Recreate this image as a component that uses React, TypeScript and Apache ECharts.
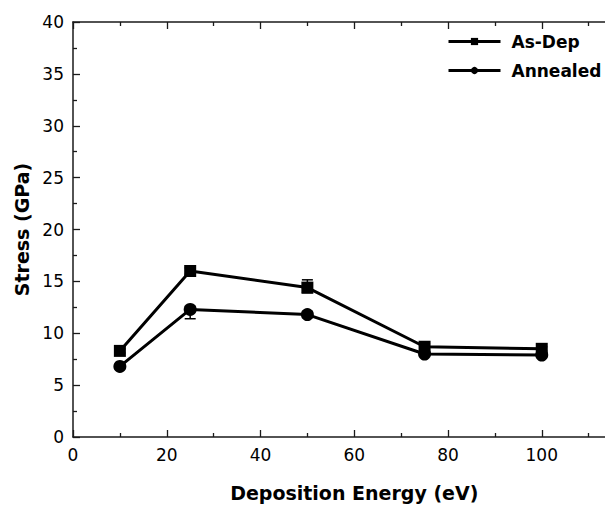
import React, { useEffect, useRef } from "react";
import * as echarts from "echarts";

const xValues = [10, 25, 50, 75, 100];
const asDep = [8.3, 16.0, 14.4, 8.7, 8.5];
const annealed = [6.8, 12.3, 11.8, 8.0, 7.9];
const asDepErrUp = [0.2, 0.3, 0.75, 0.3, 0.2];
const asDepErrDown = [0.2, 0.3, 0.5, 0.3, 0.2];
const annealedErrUp = [0.2, 0.3, 0.3, 0.2, 0.2];
const annealedErrDown = [0.2, 0.9, 0.3, 0.2, 0.2];
const seriesNames = ["As-Dep", "Annealed"];
const xTitle = "Deposition Energy (eV)";
const yTitle = "Stress (GPa)";

const FONT = "DejaVu Sans";

export default function App() {
  const ref = useRef<HTMLDivElement>(null);
  useEffect(() => {
    if (!ref.current) return;
    const chart = echarts.init(ref.current, undefined, { renderer: "svg" });
    const axisLine = { show: true, onZero: false, lineStyle: { color: "#1a1a1a", width: 1.5 } };
    const tick = { show: true, inside: true, length: 7, lineStyle: { color: "#1a1a1a", width: 1.3 } };
    const minor = { show: true, splitNumber: 2, length: 4, lineStyle: { color: "#1a1a1a", width: 1.3 } };
    const errRender = (params: any, api: any) => {
      const x = api.value(0);
      const lo = api.value(1);
      const hi = api.value(2);
      const p1 = api.coord([x, hi]);
      const p2 = api.coord([x, lo]);
      const cap = 5.5;
      const st = { stroke: "#000", lineWidth: 1.5 };
      return {
        type: "group",
        children: [
          { type: "line", shape: { x1: p1[0], y1: p1[1], x2: p2[0], y2: p2[1] }, style: st },
          { type: "line", shape: { x1: p1[0] - cap, y1: p1[1], x2: p1[0] + cap, y2: p1[1] }, style: st },
          { type: "line", shape: { x1: p2[0] - cap, y1: p2[1], x2: p2[0] + cap, y2: p2[1] }, style: st },
        ],
      };
    };
    chart.setOption({
      animation: false,
      backgroundColor: "#fff",
      grid: { left: 73, top: 22, width: 562.5, height: 415 },
      legend: {
        show: true,
        data: seriesNames,
        orient: "vertical",
        left: 447,
        top: 33,
        padding: 0,
        itemGap: 12,
        itemWidth: 52,
        itemHeight: 9,
        lineStyle: { width: 3, color: "#000" },
        textStyle: { fontFamily: FONT, fontWeight: "bold", fontSize: 17, color: "#000", padding: [0, 0, 0, 6] },
      },
      xAxis: [
        {
          type: "value",
          min: 0,
          max: 120,
          interval: 20,
          position: "bottom",
          name: xTitle,
          nameLocation: "middle",
          nameGap: 46,
          nameTextStyle: { fontFamily: FONT, fontWeight: "bold", fontSize: 19, color: "#000" },
          axisLine,
          axisTick: tick,
          minorTick: minor,
          splitLine: { show: false },
          axisLabel: {
            fontFamily: FONT,
            fontSize: 17,
            color: "#000",
            margin: 9,
            formatter: (v: number) => (v <= 100 ? String(v) : ""),
          },
        },
        {
          type: "value",
          min: 0,
          max: 120,
          interval: 20,
          position: "top",
          axisLine,
          axisTick: tick,
          minorTick: minor,
          splitLine: { show: false },
          axisLabel: { show: false },
        },
      ],
      yAxis: [
        {
          type: "value",
          min: 0,
          max: 40,
          interval: 5,
          position: "left",
          name: yTitle,
          nameLocation: "middle",
          nameGap: 35,
          nameRotate: 90,
          nameTextStyle: { fontFamily: FONT, fontWeight: "bold", fontSize: 19, color: "#000" },
          axisLine,
          axisTick: tick,
          minorTick: minor,
          splitLine: { show: false },
          axisLabel: { fontFamily: FONT, fontSize: 17, color: "#000", margin: 9 },
        },
        {
          type: "value",
          min: 0,
          max: 40,
          interval: 5,
          position: "right",
          axisLine,
          axisTick: tick,
          minorTick: minor,
          splitLine: { show: false },
          axisLabel: { show: false },
        },
      ],
      series: [
        {
          type: "custom",
          name: "err1",
          xAxisIndex: 0,
          yAxisIndex: 0,
          renderItem: errRender,
          data: xValues.map((x, i) => [x, asDep[i] - asDepErrDown[i], asDep[i] + asDepErrUp[i]]),
          z: 1,
          silent: true,
        },
        {
          type: "custom",
          name: "err2",
          xAxisIndex: 0,
          yAxisIndex: 0,
          renderItem: errRender,
          data: xValues.map((x, i) => [x, annealed[i] - annealedErrDown[i], annealed[i] + annealedErrUp[i]]),
          z: 1,
          silent: true,
        },
        {
          type: "line",
          name: seriesNames[0],
          xAxisIndex: 0,
          yAxisIndex: 0,
          data: xValues.map((x, i) => [x, asDep[i]]),
          symbol: "rect",
          symbolSize: 12,
          color: "#000",
          lineStyle: { color: "#000", width: 3 },
          itemStyle: { color: "#000" },
          z: 3,
        },
        {
          type: "line",
          name: seriesNames[1],
          xAxisIndex: 0,
          yAxisIndex: 0,
          data: xValues.map((x, i) => [x, annealed[i]]),
          symbol: "circle",
          symbolSize: 13,
          color: "#000",
          lineStyle: { color: "#000", width: 3 },
          itemStyle: { color: "#000" },
          z: 3,
        },
      ],
    });
    return () => chart.dispose();
  }, []);
  return (
    <div style={{ position: "absolute", left: 0, top: 0, width: 605, height: 507, overflow: "hidden", background: "#fff" }}>
      <div ref={ref} style={{ width: 640, height: 507 }} />
    </div>
  );
}
